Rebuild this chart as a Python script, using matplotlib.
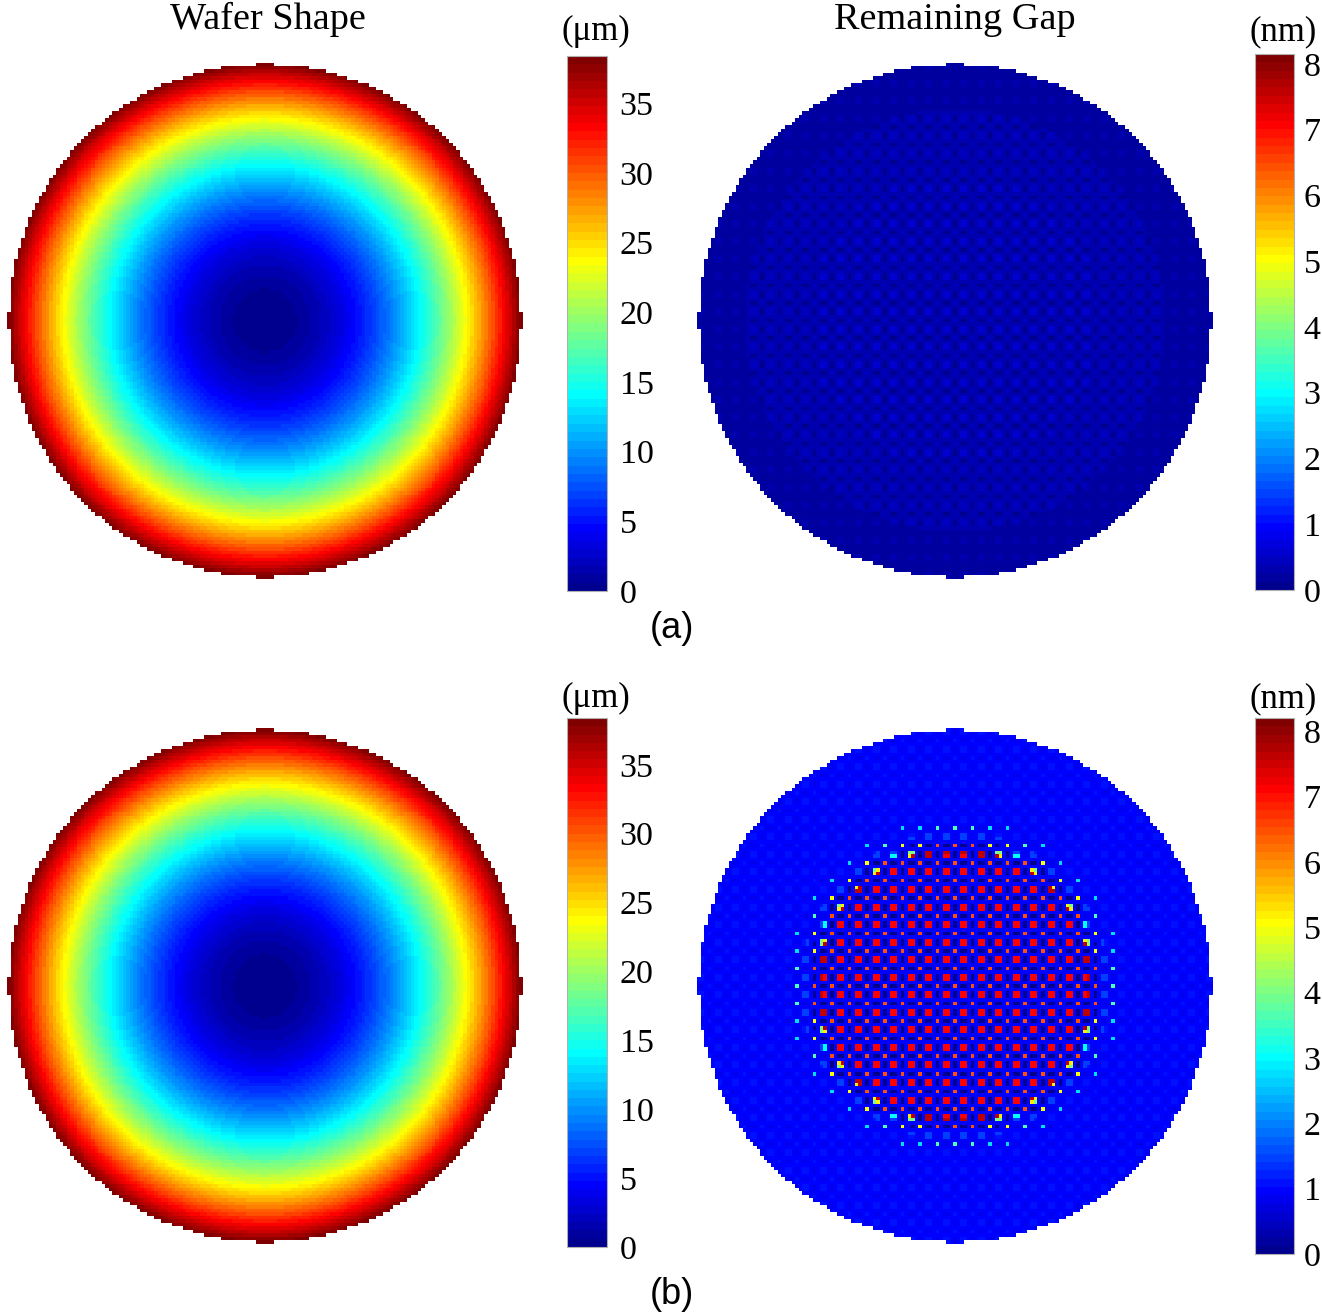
import numpy as np
import matplotlib
matplotlib.use("Agg")
import matplotlib.pyplot as plt
from matplotlib.colors import ListedColormap

plt.rcParams['font.family'] = ['Liberation Serif', 'DejaVu Serif']

# grille de la plaquette (cellules)
n_cells = 147
wafer_radius = 73.05
bow_um = 38.4

shape_lim = [0, 38.4]
shape_ticks = [0, 5, 10, 15, 20, 25, 30, 35]
gap_lim_a = [0, 8.15]
gap_lim_b = [0, 8.2]
gap_ticks = [0, 1, 2, 3, 4, 5, 6, 7, 8]

# motif du gap : maille 5x5
pitch = 5
square_off = [2, 3]
dot_off = [0]

# (a) gap restant, valeurs par bande de rayon (nm)
a_bg_edges, a_bg_vals = [60], [0.3, 0.2]
a_sq_edges, a_sq_vals = [42, 60], [0.62, 0.45, 0.28]
a_dot_edges, a_dot_vals = [42, 60], [0.5, 0.38, 0.25]
a_dark_edges, a_dark_vals = [60], [0.05, 0.15]

# (b) gap restant, valeurs par bande de rayon (nm)
b_bg_edges, b_bg_vals = [80], [0.95, 0.95]
b_sq_edges, b_sq_vals = [37.6, 38.9, 39.7, 40.5, 41.5, 44.0], [7.05, 7.6, 5.2, 4.0, 3.0, 1.5, 1.05]
b_dot_edges, b_dot_vals = [41.0, 43.5, 45.5, 47.5, 49.0], [6.45, 5.0, 3.6, 2.7, 1.8, 1.05]
b_dark_edges, b_dark_vals = [42.0], [0.1, 0.8]


def matlab_jet(n=64):
    m = int(np.ceil(n / 4))
    u = np.concatenate([np.arange(1, m + 1) / m, np.ones(m - 1), np.arange(m, 0, -1) / m])
    g = int(np.ceil(m / 2)) - (1 if n % 4 == 1 else 0) + np.arange(1, len(u) + 1)
    r = g + m
    b = g - m
    rgb = np.zeros((n, 3))
    rr = r[r <= n]
    gg = g[g <= n]
    bb = b[b >= 1]
    rgb[rr - 1, 0] = u[:len(rr)]
    rgb[gg - 1, 1] = u[:len(gg)]
    rgb[bb - 1, 2] = u[len(u) - len(bb):]
    return ListedColormap(rgb)


def band(r, edges, vals):
    return np.asarray(vals)[np.digitize(r, edges)]


idx = np.arange(n_cells) - n_cells // 2
X, Y = np.meshgrid(idx, idx)
R = np.hypot(X, Y)
inside = R <= wafer_radius
kx = X % pitch
ky = Y % pitch
sq = np.isin(kx, square_off) & np.isin(ky, square_off)
dot = np.isin(kx, dot_off) & np.isin(ky, dot_off)
dark = (np.isin(kx, dot_off) & np.isin(ky, square_off)) | (np.isin(ky, dot_off) & np.isin(kx, square_off))


def gap_field(bg, sqv, dotv, darkv):
    f = band(R, *bg)
    f = np.where(sq, band(R, *sqv), f)
    f = np.where(dot, band(R, *dotv), f)
    f = np.where(dark, band(R, *darkv), f)
    return np.ma.masked_where(~inside, f)


shape = np.ma.masked_where(~inside, bow_um * (R / wafer_radius) ** 2)
gap_a = gap_field((a_bg_edges, a_bg_vals), (a_sq_edges, a_sq_vals),
                  (a_dot_edges, a_dot_vals), (a_dark_edges, a_dark_vals))
gap_b = gap_field((b_bg_edges, b_bg_vals), (b_sq_edges, b_sq_vals),
                  (b_dot_edges, b_dot_vals), (b_dark_edges, b_dark_vals))

cmap = matlab_jet(64)

W, H = 1322, 1314
fig = plt.figure(figsize=(W / 100, H / 100), dpi=100)


def px_axes(x0, y0, x1, y1):
    return fig.add_axes([x0 / W, 1 - y1 / H, (x1 - x0) / W, (y1 - y0) / H])


def panel(img_box, cb_box, data, lim, ticks, unit, unit_x, unit_y, pad):
    ax = px_axes(*img_box)
    im = ax.imshow(data, cmap=cmap, vmin=lim[0], vmax=lim[1],
                   interpolation='nearest', aspect='auto')
    ax.axis('off')
    cax = px_axes(*cb_box)
    cb = fig.colorbar(im, cax=cax, ticks=ticks)
    cb.outline.set_edgecolor('#b0b0b0')
    cb.outline.set_linewidth(0.8)
    cax.tick_params(length=0, labelsize=24.5, pad=pad)
    fig.text(unit_x / W, 1 - unit_y / H, unit, ha='center', va='baseline', fontsize=25)
    return ax


panel((7, 63, 523, 579), (567, 56, 607, 591), shape, shape_lim, shape_ticks, '(μm)', 596, 40, 9)
panel((697, 63, 1213, 579), (1255, 54, 1294, 590), gap_a, gap_lim_a, gap_ticks, '(nm)', 1283, 40, 7)
panel((7, 728, 523, 1244), (567, 718, 607, 1247), shape, shape_lim, shape_ticks, '(μm)', 596, 707, 9)
panel((697, 728, 1213, 1244), (1255, 718, 1294, 1254), gap_b, gap_lim_b, gap_ticks, '(nm)', 1283, 707, 7)

fig.text(268 / W, 1 - 29 / H, 'Wafer Shape', ha='center', va='baseline', fontsize=27.5)
fig.text(955 / W, 1 - 29 / H, 'Remaining Gap', ha='center', va='baseline', fontsize=27.5)
fig.text(672 / W, 1 - 629 / H, '(a)', ha='center', va='center', fontsize=26,
         family=['Liberation Sans', 'DejaVu Sans'])
fig.text(672 / W, 1 - 1295 / H, '(b)', ha='center', va='center', fontsize=26,
         family=['Liberation Sans', 'DejaVu Sans'])

fig.savefig('out.png', dpi=100, facecolor='white')
